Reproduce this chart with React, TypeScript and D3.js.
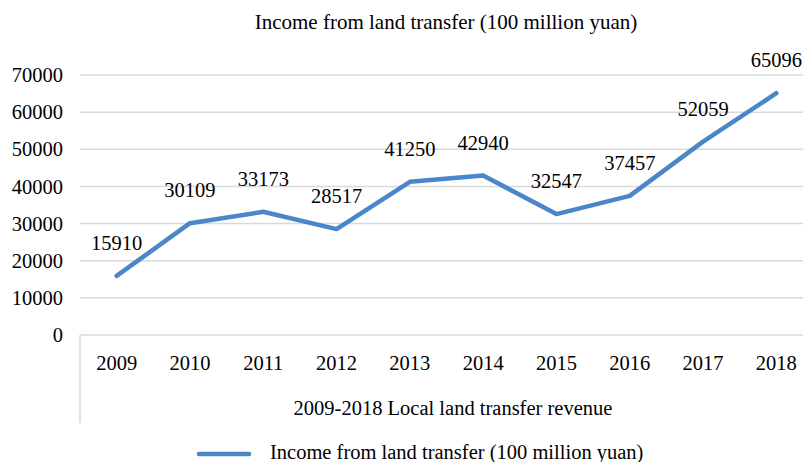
import React from "react";
import * as d3 from "d3";

const years = ["2009", "2010", "2011", "2012", "2013", "2014", "2015", "2016", "2017", "2018"];
const income = [15910, 30109, 33173, 28517, 41250, 42940, 32547, 37457, 52059, 65096];
const yTicks = [0, 10000, 20000, 30000, 40000, 50000, 60000, 70000];
const chartTitle = "Income from land transfer (100 million yuan)";
const xTitle = "2009-2018 Local land transfer revenue";
const legendLabel = "Income from land transfer (100 million yuan)";

const W = 803;
const H = 462;
const FONT = "'Liberation Serif', 'Times New Roman', serif";
const FS = 20.5;
const BLUE = "#4a86c8";
const GRID = "#d9d9d9";

export default function App() {
  const x = d3.scaleBand<string>().domain(years).range([80, 813]).padding(0);
  const y = d3.scaleLinear().domain([0, 70000]).range([335, 75]);
  const cx = (yr: string) => (x(yr) as number) + x.bandwidth() / 2;
  const line = d3
    .line<number>()
    .x((_, i) => cx(years[i]))
    .y((d) => y(d));

  return (
    <svg
      width={W}
      height={H}
      style={{ position: "absolute", left: 0, top: 0, background: "#fff" }}
      fontFamily={FONT}
    >
      <rect x={0} y={0} width={W} height={H} fill="#fff" />
      <text x={446} y={29} textAnchor="middle" fontSize={21} fill="#000">
        {chartTitle}
      </text>
      {yTicks.map((t) => (
        <g key={t}>
          <line x1={80} x2={W} y1={y(t)} y2={y(t)} stroke={GRID} strokeWidth={1.5} />
          <text x={63} y={y(t)} dy="0.35em" textAnchor="end" fontSize={FS} fill="#000">
            {t}
          </text>
        </g>
      ))}
      <line x1={80} x2={80} y1={y(0)} y2={423} stroke={GRID} strokeWidth={1.5} />
      {years.map((yr) => (
        <text key={yr} x={cx(yr)} y={370} textAnchor="middle" fontSize={FS} fill="#000">
          {yr}
        </text>
      ))}
      <text x={453} y={415} textAnchor="middle" fontSize={FS} fill="#000">
        {xTitle}
      </text>
      <path
        d={line(income) || ""}
        fill="none"
        stroke={BLUE}
        strokeWidth={4.5}
        strokeLinecap="round"
        strokeLinejoin="round"
      />
      {income.map((v, i) => (
        <text key={i} x={cx(years[i])} y={y(v) - 26} textAnchor="middle" fontSize={FS} fill="#000">
          {v}
        </text>
      ))}
      <line x1={199} x2={249} y1={454} y2={454} stroke={BLUE} strokeWidth={4.5} strokeLinecap="round" />
      <text x={270} y={459} fontSize={FS} fill="#000">
        {legendLabel}
      </text>
    </svg>
  );
}
